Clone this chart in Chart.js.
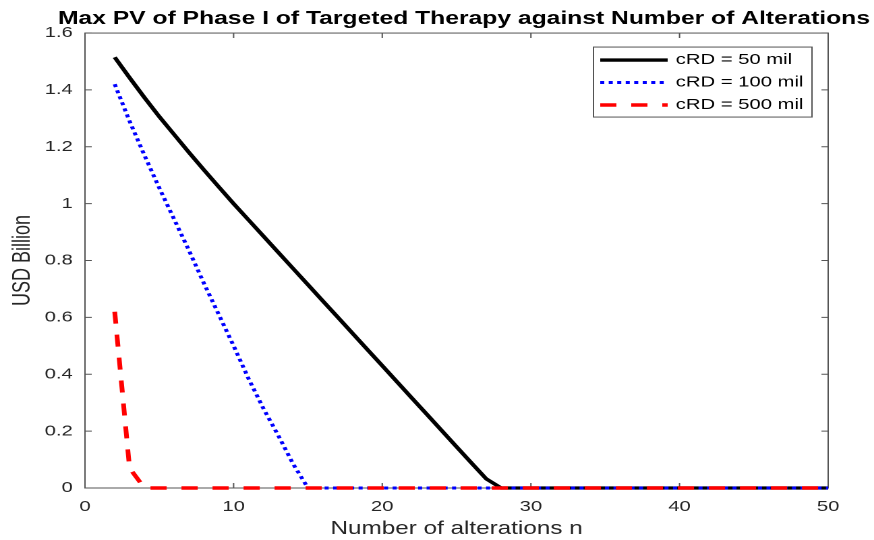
<!DOCTYPE html>
<html>
<head>
<meta charset="utf-8">
<script src="https://cdn.jsdelivr.net/npm/chart.js@4"></script>
<style>
  html, body { margin: 0; padding: 0; background: #fff; overflow: hidden; }
  /* the reference figure is stretched sideways, so draw narrow and scale x */
  #wrap { position: absolute; left: 0; top: 0; width: 648px; height: 540px;
          transform: scaleX(1.3488); transform-origin: 0 0; }
</style>
</head>
<body>
<div id="wrap"><canvas id="pv"></canvas></div>
<script>
const nValues = [2, 3, 4, 5, 6, 7, 8, 9, 10, 11, 12, 13, 14, 15, 16, 17, 18, 19, 20, 21, 22, 23, 24, 25, 26,
                 27, 28, 29, 30, 31, 32, 33, 34, 35, 36, 37, 38, 39, 40, 41, 42, 43, 44, 45, 46, 47, 48, 49, 50];
const pv50 = [1.515, 1.443, 1.373, 1.306, 1.243, 1.18, 1.119, 1.059, 1.0, 0.943, 0.886, 0.829, 0.772, 0.715, 0.658,
              0.601, 0.544, 0.487, 0.43, 0.373, 0.316, 0.259, 0.202, 0.145, 0.088, 0.032,
              0, 0, 0, 0, 0, 0, 0, 0, 0, 0, 0, 0, 0, 0, 0, 0, 0, 0, 0, 0, 0, 0, 0];
const pv100 = [1.42, 1.29, 1.17, 1.055, 0.945, 0.835, 0.72, 0.61, 0.5, 0.385, 0.28, 0.185, 0.085,
               0, 0, 0, 0, 0, 0, 0, 0, 0, 0, 0, 0, 0, 0, 0, 0, 0, 0, 0, 0, 0, 0, 0, 0, 0, 0, 0, 0, 0, 0, 0, 0, 0, 0, 0, 0];
const pv500 = [0.62, 0.07,
               0, 0, 0, 0, 0, 0, 0, 0, 0, 0, 0, 0, 0, 0, 0, 0, 0, 0, 0, 0, 0, 0, 0, 0, 0, 0, 0, 0, 0, 0, 0, 0,
               0, 0, 0, 0, 0, 0, 0, 0, 0, 0, 0, 0, 0, 0, 0];
const seriesNames = ['cRD = 50 mil', 'cRD = 100 mil', 'cRD = 500 mil'];
const xTicks = [0, 10, 20, 30, 40, 50];
const yTicks = [0, 0.2, 0.4, 0.6, 0.8, 1, 1.2, 1.4, 1.6];

const FONT = '"Liberation Sans", Arial, sans-serif';
const INK = '#262626';
const FRAME = '#555';

function pts(vals) {
    return nValues.map((n, i) => ({x: n, y: vals[i]}));
}

// matlab style box with inward ticks on all four sides
const axesBox = {
    id: 'axesBox',
    beforeDatasetsDraw(chart) {
        const {ctx, chartArea: a, scales: {x, y}} = chart;
        const len = 5;
        ctx.save();
        ctx.strokeStyle = FRAME;
        ctx.lineWidth = 1;
        ctx.strokeRect(a.left, a.top, a.right - a.left, a.bottom - a.top);
        ctx.beginPath();
        xTicks.forEach(v => {
            const px = x.getPixelForValue(v);
            ctx.moveTo(px, a.bottom); ctx.lineTo(px, a.bottom - len);
            ctx.moveTo(px, a.top); ctx.lineTo(px, a.top + len);
        });
        yTicks.forEach(v => {
            const py = y.getPixelForValue(v);
            ctx.moveTo(a.left, py); ctx.lineTo(a.left + len, py);
            ctx.moveTo(a.right, py); ctx.lineTo(a.right - len, py);
        });
        ctx.stroke();
        ctx.restore();
    }
};

// boxed legend in the top right corner, lines stacked vertically
const boxLegend = {
    id: 'boxLegend',
    afterDatasetsDraw(chart) {
        const {ctx, chartArea: a} = chart;
        const w = 162, h = 70;
        const left = a.right - 12 - w, top = a.top + 14;
        ctx.save();
        ctx.fillStyle = '#fff';
        ctx.fillRect(left, top, w, h);
        ctx.strokeStyle = FRAME;
        ctx.lineWidth = 1;
        ctx.strokeRect(left, top, w, h);
        ctx.font = '15px ' + FONT;
        ctx.textBaseline = 'middle';
        chart.data.datasets.forEach((ds, i) => {
            const cy = top + 13 + i * 22.5;
            ctx.beginPath();
            ctx.setLineDash(ds.borderDash || []);
            ctx.lineWidth = ds.borderWidth;
            ctx.strokeStyle = ds.borderColor;
            ctx.moveTo(left + 5, cy);
            ctx.lineTo(left + 55, cy);
            ctx.stroke();
            ctx.setLineDash([]);
            ctx.fillStyle = '#000';
            ctx.fillText(ds.label, left + 61, cy);
        });
        ctx.restore();
    }
};

new Chart(document.getElementById('pv'), {
    type: 'line',
    data: {
        datasets: [
            {label: seriesNames[0], data: pts(pv50), borderColor: '#000', borderWidth: 3.3, order: 3},
            {label: seriesNames[1], data: pts(pv100), borderColor: '#0000ff', borderWidth: 3, borderDash: [3, 3.3], order: 2},
            {label: seriesNames[2], data: pts(pv500), borderColor: '#ff0000', borderWidth: 3.5, borderDash: [12, 11], order: 1}
        ]
    },
    options: {
        responsive: true,
        maintainAspectRatio: false,
        devicePixelRatio: 2,
        animation: false,
        layout: {padding: {top: 0, right: 3, bottom: 0, left: 0}},
        elements: {point: {radius: 0}, line: {tension: 0, fill: false}},
        datasets: {line: {clip: false}},
        plugins: {
            legend: {display: false},
            tooltip: {enabled: false},
            title: {
                display: true,
                text: 'Max PV of Phase I of Targeted Therapy against Number of Alterations',
                align: 'end',
                color: '#000',
                font: {family: FONT, size: 18.3, weight: 'bold'},
                padding: {top: 8.2, bottom: 2.9}
            }
        },
        scales: {
            x: {
                type: 'linear',
                min: 0,
                max: 50,
                afterBuildTicks: s => { s.ticks = xTicks.map(v => ({value: v})); },
                afterFit: s => { s.height = 52; },
                grid: {display: false, drawTicks: false},
                border: {display: false},
                ticks: {color: INK, font: {family: FONT, size: 15}, padding: 10, maxRotation: 0},
                title: {display: true, text: 'Number of alterations n', color: INK,
                        font: {family: FONT, size: 18}, padding: {top: 0, bottom: 0}}
            },
            y: {
                type: 'linear',
                min: 0,
                max: 1.6,
                afterBuildTicks: s => { s.ticks = yTicks.map(v => ({value: v})); },
                afterFit: s => { s.width = 63; },
                grid: {display: false, drawTicks: false},
                border: {display: false},
                ticks: {color: INK, font: {family: FONT, size: 15}, padding: 9,
                        callback: v => String(+v.toFixed(1))},
                title: {display: true, text: 'USD Billion', color: INK,
                        font: {family: FONT, size: 18}, padding: {top: 6, bottom: 0}}
            },
            // empty right axis, only keeps the gap to the right edge
            yRight: {
                type: 'linear',
                position: 'right',
                min: 0,
                max: 1.6,
                afterFit: s => { s.width = 31; },
                grid: {display: false, drawTicks: false},
                border: {display: false},
                ticks: {display: false}
            }
        }
    },
    plugins: [axesBox, boxLegend]
});
</script>
</body>
</html>
